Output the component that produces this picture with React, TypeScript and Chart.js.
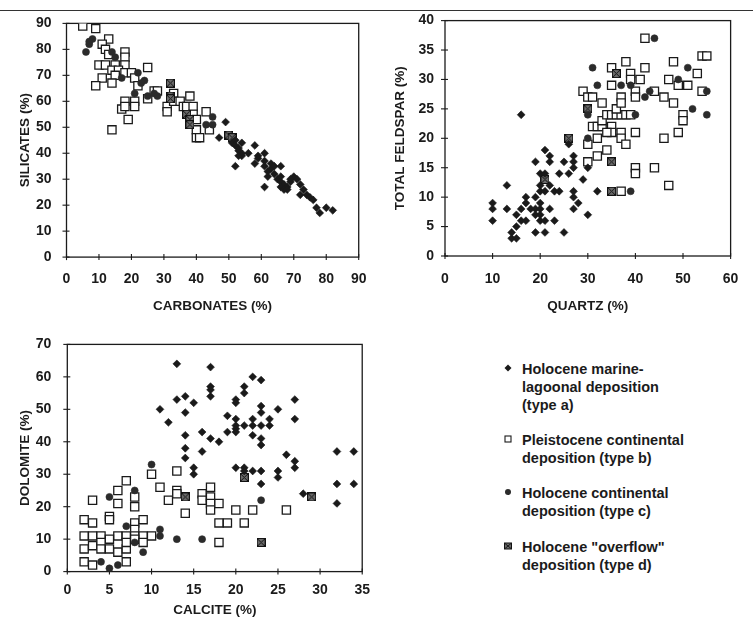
import React, { useEffect, useRef } from 'react';
import { Chart, registerables } from 'chart.js';

Chart.register(...registerables);

type Pt = [number, number];

// ---------- Panel 1: CARBONATES (%) vs SILICATES (%) ----------
const carbSilTypeA: Pt[] = [
  [47, 46], [49, 52], [51, 44], [52, 45], [52, 43], [53, 42], [53, 41], [54, 44], [54, 40], [54, 39],
  [53, 39], [52, 35], [56, 40], [58, 43], [58, 36], [59, 39], [59, 38], [61, 40], [61, 37], [61, 35],
  [62, 33], [63, 34], [62, 31], [64, 32], [61, 27], [63, 36], [64, 35], [66, 35], [65, 30], [66, 29],
  [66, 31], [67, 28], [66, 27], [68, 27], [67, 26], [69, 29], [70, 31], [68, 26], [69, 30], [71, 30],
  [72, 28], [72, 24], [73, 26], [74, 24], [75, 23], [76, 22], [77, 19], [78, 17], [80, 19], [82, 18],
];
const carbSilTypeB: Pt[] = [
  [5, 89], [9, 88], [13, 84], [11, 82], [12, 80], [13, 78], [18, 79], [18, 77], [10, 74], [12, 74],
  [15, 74], [18, 74], [14, 72], [16, 72], [15, 70], [18, 71], [20, 71], [11, 69], [21, 69], [9, 66],
  [14, 67], [22, 66], [25, 73], [18, 60], [17, 57], [18, 58], [21, 60], [21, 58], [19, 53], [14, 49],
  [25, 61], [27, 64], [28, 64], [31, 58], [31, 56], [33, 63], [33, 60], [35, 60], [36, 58], [37, 58],
  [38, 62], [39, 58], [39, 55], [40, 53], [40, 49], [40, 46], [41, 46], [43, 56], [44, 49],
];
const carbSilTypeC: Pt[] = [
  [6, 79], [7, 82], [7, 83], [8, 84], [14, 79], [15, 77], [17, 69], [22, 71], [24, 68], [23, 67],
  [21, 63], [25, 62], [27, 63], [28, 62], [43, 51], [45, 54], [45, 51],
];
const carbSilTypeD: Pt[] = [
  [32, 67], [32, 62], [32, 61], [37, 55], [38, 53], [38, 51], [50, 47], [51, 46],
];

// ---------- Panel 2: QUARTZ (%) vs TOTAL FELDSPAR (%) ----------
const qtzFspTypeA: Pt[] = [
  [10, 9], [10, 8], [10, 6], [13, 12], [13, 8], [14, 4], [14, 3], [15, 3], [15, 5], [15, 7],
  [16, 8], [16, 6], [17, 6], [17, 10], [17, 9], [18, 8], [19, 10], [19, 8], [19, 7], [19, 4],
  [19, 16], [20, 8], [20, 7], [20, 6], [20, 9], [20, 14], [20, 12], [20, 11], [21, 14], [21, 18],
  [21, 11], [21, 6], [21, 4], [22, 17], [22, 16], [22, 12], [22, 8], [23, 11], [24, 11], [23, 6],
  [24, 14], [25, 16], [25, 4], [26, 14], [26, 19], [16, 24], [27, 17], [27, 16], [27, 15], [27, 11],
  [27, 10], [27, 8], [28, 9], [29, 13], [30, 15], [30, 7], [32, 11],
];
const qtzFspTypeB: Pt[] = [
  [29, 28], [30, 27], [31, 27], [30, 19], [30, 16], [31, 22], [32, 22], [33, 22], [33, 23], [35, 22],
  [35, 21], [32, 20], [32, 17], [33, 26], [34, 24], [35, 24], [36, 24], [37, 24], [38, 24], [39, 24],
  [34, 18], [36, 25], [35, 32], [35, 29], [37, 27], [37, 26], [37, 21], [37, 20], [38, 19], [38, 33],
  [39, 31], [39, 30], [40, 28], [40, 27], [40, 21], [40, 15], [40, 14], [37, 11], [41, 30], [42, 32],
  [42, 37], [44, 28], [44, 15], [46, 27], [46, 20], [47, 12], [47, 30], [48, 33], [48, 26], [49, 29],
  [49, 21], [50, 24], [50, 23], [51, 29], [53, 31], [54, 34], [55, 34], [54, 28], [34, 21],
];
const qtzFspTypeC: Pt[] = [
  [31, 32], [32, 29], [37, 29], [39, 29], [40, 24], [42, 27], [43, 28], [44, 37], [49, 30], [51, 32],
  [52, 25], [55, 28], [55, 24], [39, 11], [30, 24], [30, 20],
];
const qtzFspTypeD: Pt[] = [
  [21, 13], [26, 20], [30, 25], [35, 16], [35, 11], [36, 31],
];

// ---------- Panel 3: CALCITE (%) vs DOLOMITE (%) ----------
const calDolTypeA: Pt[] = [
  [13, 64], [11, 50], [12, 46], [13, 53], [14, 54], [14, 49], [15, 52], [14, 42], [14, 38], [14, 35],
  [15, 32], [15, 30], [16, 43], [16, 37], [17, 63], [17, 57], [17, 56], [17, 54], [17, 41], [18, 40],
  [19, 48], [19, 43], [20, 53], [20, 52], [20, 47], [20, 45], [20, 44], [20, 43], [20, 32], [21, 57],
  [21, 55], [21, 45], [21, 32], [21, 31], [22, 60], [22, 47], [22, 45], [22, 42], [22, 31], [23, 59],
  [23, 51], [23, 49], [23, 45], [23, 41], [23, 39], [23, 31], [23, 27], [24, 47], [24, 45], [25, 50],
  [25, 31], [25, 29], [26, 36], [27, 53], [27, 47], [27, 34], [27, 32], [28, 24], [32, 37], [32, 27],
  [32, 21], [34, 37], [34, 27],
];
const calDolTypeB: Pt[] = [
  [2, 16], [3, 15], [3, 22], [5, 17], [5, 16], [6, 25], [6, 21], [7, 28], [8, 23], [8, 20],
  [8, 15], [8, 13], [9, 16], [10, 30], [11, 26], [12, 22], [13, 31], [13, 25], [13, 24], [14, 18],
  [16, 24], [16, 22], [17, 26], [17, 23], [17, 21], [17, 19], [18, 21], [18, 15], [19, 15], [21, 15],
  [18, 9], [20, 19], [22, 19], [26, 19], [2, 11], [3, 11], [4, 11], [6, 11], [7, 11], [8, 11],
  [9, 11], [10, 11], [5, 10], [2, 7], [3, 8], [4, 9], [4, 7], [5, 7], [6, 6], [7, 7],
  [7, 9], [8, 10], [9, 9], [2, 3], [3, 2], [7, 3],
];
const calDolTypeC: Pt[] = [
  [5, 23], [8, 25], [7, 14], [8, 9], [9, 6], [10, 33], [11, 13], [11, 11], [13, 10], [16, 10],
  [4, 3], [5, 1], [6, 2], [23, 22],
];
const calDolTypeD: Pt[] = [
  [14, 23], [21, 29], [23, 9], [29, 23],
];

// ---------- Legend ----------
const legendEntries: { key: 'a' | 'b' | 'c' | 'd'; lines: string[] }[] = [
  { key: 'a', lines: ['Holocene marine-', 'lagoonal deposition', '(type a)'] },
  { key: 'b', lines: ['Pleistocene continental', 'deposition (type b)'] },
  { key: 'c', lines: ['Holocene continental', 'deposition (type c)'] },
  { key: 'd', lines: ['Holocene "overflow"', 'deposition (type d)'] },
];

const FONT = '"Liberation Sans", Arial, Helvetica, sans-serif';
const INK = '#1b1b1b';
const TICK_SIZE = 14;
const TITLE_SIZE = 13.5;

interface PanelSpec {
  xMin: number; xMax: number; xStep: number;
  yMin: number; yMax: number; yStep: number;
  xTitle: string; yTitle: string;
  a: Pt[]; b: Pt[]; c: Pt[]; d: Pt[];
  left: number; top: number; width: number; height: number;
  pad: { left: number; right: number; top: number; bottom: number };
  yAxisW: number; xAxisH: number;
  yTickPad: number; xTickPad: number; yTitlePad: number; xTitlePad: number;
}

const panels: PanelSpec[] = [
  {
    xMin: 0, xMax: 90, xStep: 10, yMin: 0, yMax: 90, yStep: 10,
    xTitle: 'CARBONATES (%)', yTitle: 'SILICATES (%)',
    a: carbSilTypeA, b: carbSilTypeB, c: carbSilTypeC, d: carbSilTypeD,
    left: 0, top: 0, width: 380, height: 320,
    pad: { left: 0, right: 8.4, top: 22.2, bottom: 0 },
    yAxisW: 66.5, xAxisH: 62.9, yTickPad: 15, xTickPad: 13.5, yTitlePad: 16.9, xTitlePad: 5.9,
  },
  {
    xMin: 0, xMax: 60, xStep: 10, yMin: 0, yMax: 40, yStep: 5,
    xTitle: 'QUARTZ (%)', yTitle: 'TOTAL FELDSPAR (%)',
    a: qtzFspTypeA, b: qtzFspTypeB, c: qtzFspTypeC, d: qtzFspTypeD,
    left: 380, top: 0, width: 373, height: 320,
    pad: { left: 0, right: 7, top: 20.6, bottom: 0 },
    yAxisW: 65, xAxisH: 64, yTickPad: 11, xTickPad: 14.6, yTitlePad: 11.9, xTitlePad: 5.9,
  },
  {
    xMin: 0, xMax: 35, xStep: 5, yMin: 0, yMax: 70, yStep: 10,
    xTitle: 'CALCITE (%)', yTitle: 'DOLOMITE (%)',
    a: calDolTypeA, b: calDolTypeB, c: calDolTypeC, d: calDolTypeD,
    left: 0, top: 320, width: 380, height: 307,
    pad: { left: 0, right: 11.7, top: 14.3, bottom: 0 },
    yAxisW: 67.3, xAxisH: 55.4, yTickPad: 16, xTickPad: 10, yTitlePad: 16.9, xTitlePad: 8.9,
  },
];

function makeDImage(): HTMLCanvasElement {
  const cv = document.createElement('canvas');
  cv.width = 9; cv.height = 9;
  const c = cv.getContext('2d')!;
  c.fillStyle = '#6a6a6a';
  c.fillRect(0, 0, 9, 9);
  c.strokeStyle = '#111';
  c.lineWidth = 1;
  c.strokeRect(0.5, 0.5, 8, 8);
  c.beginPath();
  c.moveTo(1, 1); c.lineTo(8, 8);
  c.moveTo(8, 1); c.lineTo(1, 8);
  c.stroke();
  return cv;
}

const framePlugin = {
  id: 'frame',
  beforeDatasetsDraw(chart: any) {
    const { ctx, chartArea: a, scales } = chart;
    ctx.save();
    ctx.strokeStyle = INK;
    ctx.lineWidth = 1.3;
    ctx.strokeRect(a.left, a.top, a.right - a.left, a.bottom - a.top);
    ctx.lineWidth = 1.1;
    scales.x.ticks.forEach((t: any) => {
      const px = scales.x.getPixelForValue(t.value);
      ctx.beginPath();
      ctx.moveTo(px, a.bottom - 3);
      ctx.lineTo(px, a.bottom + 3);
      ctx.stroke();
    });
    scales.y.ticks.forEach((t: any) => {
      const py = scales.y.getPixelForValue(t.value);
      ctx.beginPath();
      ctx.moveTo(a.left - 4, py);
      ctx.lineTo(a.left + 3, py);
      ctx.stroke();
    });
    ctx.restore();
  },
};

function toXY(p: Pt[]) {
  return p.map(([x, y]) => ({ x, y }));
}

function Panel({ spec }: { spec: PanelSpec }) {
  const ref = useRef<HTMLCanvasElement | null>(null);
  useEffect(() => {
    if (!ref.current) return;
    const dImg = makeDImage();
    const tickFont = { family: FONT, size: TICK_SIZE, weight: 'bold' as const };
    const titleFont = { family: FONT, size: TITLE_SIZE, weight: 'bold' as const };
    const chart = new Chart(ref.current, {
      type: 'scatter',
      data: {
        datasets: [
          {
            label: 'type a', data: toXY(spec.a), pointStyle: 'rectRot', pointRadius: 3.9,
            backgroundColor: '#1a1a1a', borderColor: '#1a1a1a', borderWidth: 0.6,
          },
          {
            label: 'type c', data: toXY(spec.c), pointStyle: 'circle', pointRadius: 3.5,
            backgroundColor: '#2b2b2b', borderColor: '#2b2b2b', borderWidth: 0.6,
          },
          {
            label: 'type d', data: toXY(spec.d), pointStyle: dImg as any, pointRadius: 4.5,
            backgroundColor: '#666', borderColor: '#111',
          },
          {
            label: 'type b', data: toXY(spec.b), pointStyle: 'rect', pointRadius: 5.8,
            backgroundColor: '#ffffff', borderColor: '#1a1a1a', borderWidth: 1.3,
          },
        ],
      },
      options: {
        animation: false,
        responsive: false,
        devicePixelRatio: 1,
        events: [],
        layout: { padding: spec.pad, autoPadding: false },
        plugins: { legend: { display: false }, tooltip: { enabled: false } },
        scales: {
          x: {
            type: 'linear', position: 'bottom', min: spec.xMin, max: spec.xMax,
            ticks: { stepSize: spec.xStep, font: tickFont, color: INK, padding: spec.xTickPad, maxRotation: 0, autoSkip: false },
            grid: { display: false, drawTicks: false },
            border: { display: false },
            title: { display: true, text: spec.xTitle, font: titleFont, color: INK, padding: { top: 0, bottom: spec.xTitlePad } },
            afterFit: (s: any) => { s.height = spec.xAxisH; },
          },
          y: {
            type: 'linear', position: 'left', min: spec.yMin, max: spec.yMax,
            ticks: { stepSize: spec.yStep, font: tickFont, color: INK, padding: spec.yTickPad, autoSkip: false },
            grid: { display: false, drawTicks: false },
            border: { display: false },
            title: { display: true, text: spec.yTitle, font: titleFont, color: INK, padding: { top: spec.yTitlePad, bottom: 0 } },
            afterFit: (s: any) => { s.width = spec.yAxisW; },
          },
        },
      },
      plugins: [framePlugin],
    } as any);
    return () => chart.destroy();
  }, [spec]);
  return (
    <canvas
      ref={ref}
      width={spec.width}
      height={spec.height}
      style={{ position: 'absolute', left: spec.left, top: spec.top, width: spec.width, height: spec.height }}
    />
  );
}

function Marker({ kind }: { kind: 'a' | 'b' | 'c' | 'd' }) {
  return (
    <svg width={10} height={10} style={{ position: 'absolute', left: -5, top: -5 }}>
      {kind === 'a' && <polygon points="5,1.5 8.5,5 5,8.5 1.5,5" fill="#1a1a1a" />}
      {kind === 'b' && <rect x={2} y={2} width={6} height={6} fill="#fff" stroke="#1a1a1a" strokeWidth={1.1} />}
      {kind === 'c' && <circle cx={5} cy={5} r={3} fill="#2b2b2b" />}
      {kind === 'd' && (
        <g>
          <rect x={1.5} y={2} width={7} height={6} fill="#6a6a6a" stroke="#111" strokeWidth={1} />
          <line x1={2} y1={2.5} x2={8} y2={7.5} stroke="#111" strokeWidth={0.9} />
          <line x1={8} y1={2.5} x2={2} y2={7.5} stroke="#111" strokeWidth={0.9} />
        </g>
      )}
    </svg>
  );
}

const legendFirstLineY = [369, 440, 493, 547];
const legendLineH = 18;
const legendMarkerX = 508;
const legendTextX = 522;

export default function App() {
  return (
    <div style={{ position: 'absolute', left: 0, top: 0, width: 753, height: 627, background: '#fff', overflow: 'hidden' }}>
      <div style={{ position: 'absolute', left: 0, top: 9.5, width: 753, height: 1.5, background: '#333' }} />
      {panels.map((p, i) => <Panel key={i} spec={p} />)}
      {legendEntries.map((e, i) => (
        <div key={e.key}>
          <div style={{ position: 'absolute', left: legendMarkerX, top: legendFirstLineY[i] - 1 }}>
            <Marker kind={e.key} />
          </div>
          {e.lines.map((ln, j) => (
            <div
              key={j}
              style={{
                position: 'absolute', left: legendTextX, top: legendFirstLineY[i] + j * legendLineH - legendLineH / 2,
                height: legendLineH, lineHeight: legendLineH + 'px', whiteSpace: 'nowrap',
                fontFamily: FONT, fontWeight: 'bold', fontSize: 14.5, color: INK,
              }}
            >
              {ln}
            </div>
          ))}
        </div>
      ))}
    </div>
  );
}
